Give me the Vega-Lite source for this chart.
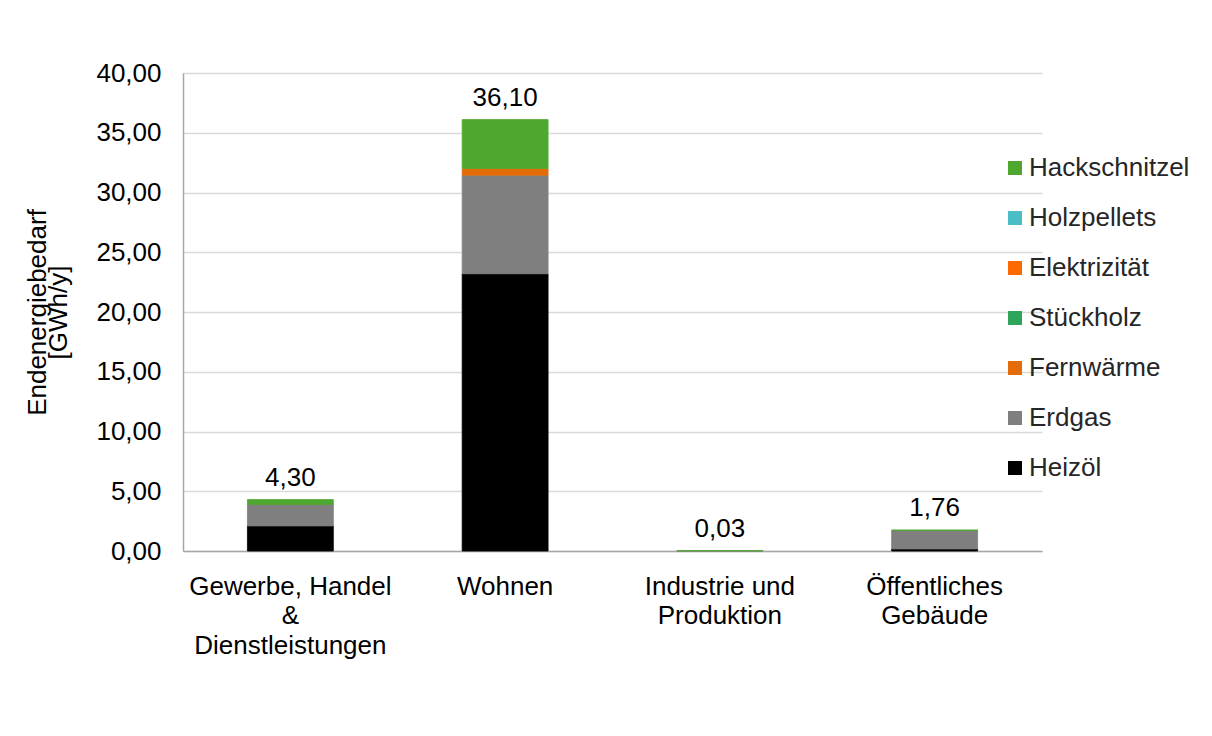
{
  "$schema": "https://vega.github.io/schema/vega-lite/v6.json",
  "autosize": "none",
  "padding": {"left": 183, "top": 73, "right": 170, "bottom": 185},
  "width": 859,
  "height": 478,
  "background": "white",
  "config": {
    "font": "Liberation Sans",
    "view": {"stroke": null},
    "locale": {"number": {"decimal": ",", "thousands": ".", "grouping": [3], "currency": ["", " €"]}}
  },
  "data": {
    "values": [
      {"Sektor": "Gewerbe, Handel|&|Dienstleistungen", "Energie": "Heizöl", "ord": 1, "Wert": 2.1},
      {"Sektor": "Gewerbe, Handel|&|Dienstleistungen", "Energie": "Erdgas", "ord": 2, "Wert": 1.8},
      {"Sektor": "Gewerbe, Handel|&|Dienstleistungen", "Energie": "Hackschnitzel", "ord": 7, "Wert": 0.4},
      {"Sektor": "Wohnen", "Energie": "Heizöl", "ord": 1, "Wert": 23.2},
      {"Sektor": "Wohnen", "Energie": "Erdgas", "ord": 2, "Wert": 8.25},
      {"Sektor": "Wohnen", "Energie": "Fernwärme", "ord": 3, "Wert": 0.55},
      {"Sektor": "Wohnen", "Energie": "Hackschnitzel", "ord": 7, "Wert": 4.1},
      {"Sektor": "Industrie und|Produktion", "Energie": "Erdgas", "ord": 2, "Wert": 0.015},
      {"Sektor": "Industrie und|Produktion", "Energie": "Hackschnitzel", "ord": 7, "Wert": 0.015},
      {"Sektor": "Öffentliches|Gebäude", "Energie": "Heizöl", "ord": 1, "Wert": 0.17},
      {"Sektor": "Öffentliches|Gebäude", "Energie": "Erdgas", "ord": 2, "Wert": 1.55},
      {"Sektor": "Öffentliches|Gebäude", "Energie": "Hackschnitzel", "ord": 7, "Wert": 0.04}
    ]
  },
  "encoding": {
    "x": {
      "field": "Sektor",
      "type": "nominal",
      "sort": null,
      "scale": {"paddingInner": 0.6, "paddingOuter": 0.3},
      "axis": {
        "title": null,
        "labelAngle": 0,
        "labelExpr": "split(datum.label, '|')",
        "labelFontSize": 26,
        "labelLineHeight": 29.5,
        "labelLimit": 400,
        "labelColor": "#000000",
        "labelPadding": 22,
        "ticks": false,
        "domainColor": "#A6A6A6",
        "domainWidth": 1.5,
        "grid": false
      }
    }
  },
  "layer": [
    {
      "mark": {"type": "bar", "strokeWidth": 0.8},
      "encoding": {
        "y": {
          "field": "Wert",
          "type": "quantitative",
          "aggregate": "sum",
          "stack": "zero",
          "scale": {"domain": [0, 40], "nice": false},
          "axis": {
            "title": ["Endenergiebedarf", "[GWh/y]"],
            "titleFontSize": 26,
            "titleFontWeight": "normal",
            "titleColor": "#000000",
            "titleLineHeight": 21,
            "titlePadding": 24,
            "values": [0, 5, 10, 15, 20, 25, 30, 35, 40],
            "format": ".2f",
            "labelFontSize": 26,
            "labelColor": "#000000",
            "labelPadding": 22,
            "ticks": false,
            "domainColor": "#A6A6A6",
            "domainWidth": 1.5,
            "gridColor": "#D9D9D9",
            "gridWidth": 1.5
          }
        },
        "color": {
          "field": "Energie",
          "type": "nominal",
          "scale": {
            "domain": ["Hackschnitzel", "Holzpellets", "Elektrizität", "Stückholz", "Fernwärme", "Erdgas", "Heizöl"],
            "range": ["#4EA72E", "#4BBDC5", "#FF6A00", "#2EA55A", "#E36C09", "#7F7F7F", "#000000"]
          },
          "legend": {
            "title": null,
            "orient": "none",
            "legendX": 819,
            "legendY": 82,
            "symbolType": "square",
            "symbolSize": 196,
            "symbolStrokeWidth": 0,
            "labelFontSize": 26,
            "labelColor": "#262626",
            "labelOffset": 1,
            "rowPadding": 24,
            "labelLimit": 300
          }
        },
        "stroke": {
          "field": "Energie",
          "type": "nominal",
          "legend": null,
          "scale": {
            "domain": ["Hackschnitzel", "Holzpellets", "Elektrizität", "Stückholz", "Fernwärme", "Erdgas", "Heizöl"],
            "range": ["#4EA72E", "#4BBDC5", "#FF6A00", "#2EA55A", "#E36C09", "#7F7F7F", "#000000"]
          }
        },
        "order": {"field": "ord", "type": "quantitative", "sort": "ascending"}
      }
    },
    {
      "mark": {"type": "text", "baseline": "bottom", "dy": -9, "fontSize": 26, "color": "#000000"},
      "encoding": {
        "y": {"field": "Wert", "type": "quantitative", "aggregate": "sum"},
        "text": {"field": "Wert", "type": "quantitative", "aggregate": "sum", "format": ".2f"}
      }
    }
  ]
}
